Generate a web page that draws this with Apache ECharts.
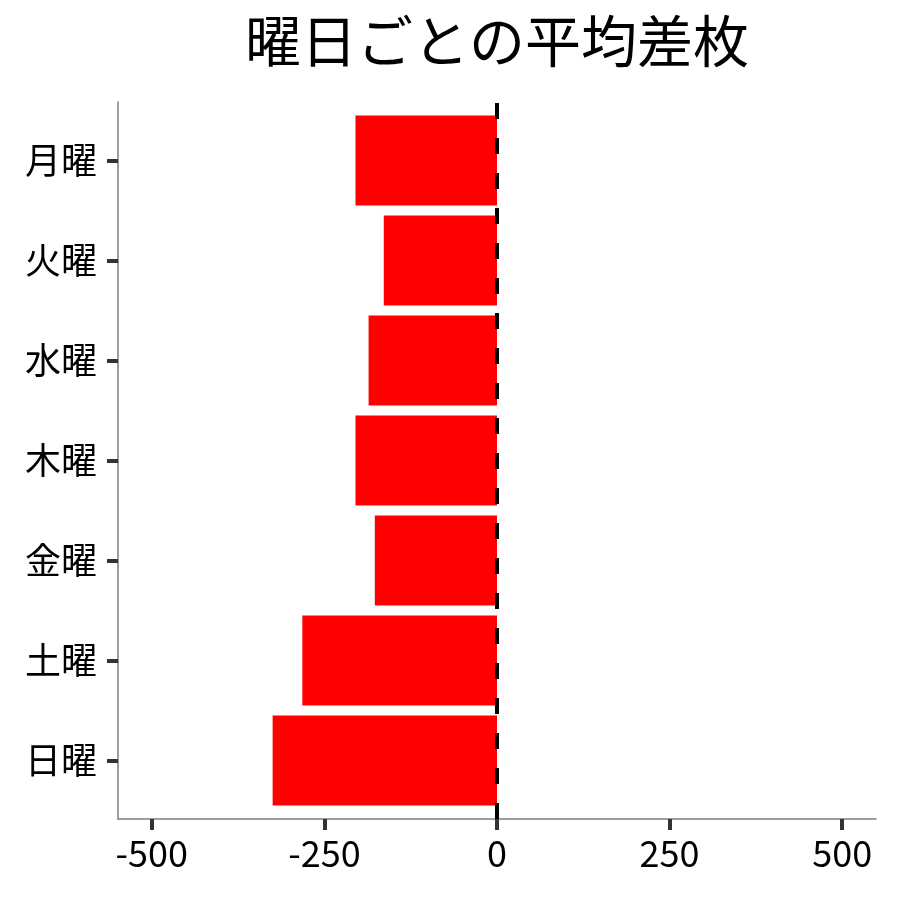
<!DOCTYPE html>
<html>
<head>
<meta charset="utf-8">
<script src="https://cdn.jsdelivr.net/npm/echarts@6/dist/echarts.min.js"></script>
<style>html,body{margin:0;padding:0;background:#fff}#c{width:900px;height:900px}</style>
</head>
<body>
<div id="c"></div>
<script>
const title = '曜日ごとの平均差枚';
const categories = ['月曜', '火曜', '水曜', '木曜', '金曜', '土曜', '日曜'];
const values = [-205, -164, -186, -205, -177, -282, -325];
const xTicks = [-500, -250, 0, 250, 500];
const xMin = -549, xMax = 549;

const font = '"Noto Sans CJK JP", "Noto Sans", sans-serif';
const chart = echarts.init(document.getElementById('c'));
chart.setOption({
  animation: false,
  backgroundColor: '#fff',
  title: {
    text: title, left: 492, top: 8, textAlign: 'center',
    textStyle: { fontFamily: font, fontSize: 56, fontWeight: 'normal', color: '#000' }
  },
  grid: [
    { left: 118, right: 24, top: 102, bottom: 81 },
    { left: 118, right: 24, top: 110.5, height: 700 }
  ],
  xAxis: [
    {
      gridIndex: 0, type: 'value', min: xMin, max: xMax,
      axisLine: { show: true, onZero: false, lineStyle: { color: '#7f7f7f', width: 1.5 } },
      axisTick: { show: true, customValues: xTicks, length: 11, lineStyle: { color: '#333', width: 4 } },
      axisLabel: { customValues: xTicks, margin: 16, fontFamily: font, fontSize: 36, color: '#000' },
      splitLine: { show: false }
    },
    {
      gridIndex: 1, type: 'value', min: xMin, max: xMax, show: false
    }
  ],
  yAxis: [
    {
      gridIndex: 0, type: 'value', min: 0, max: 1,
      axisLine: { show: true, onZero: false, lineStyle: { color: '#7f7f7f', width: 1.5 } },
      axisTick: { show: false }, axisLabel: { show: false }, splitLine: { show: false }
    },
    {
      gridIndex: 1, type: 'category', data: categories, inverse: true,
      axisLine: { show: false, onZero: false },
      axisTick: { show: true, alignWithLabel: true, length: 11, lineStyle: { color: '#333', width: 4 } },
      axisLabel: { margin: 21, fontFamily: font, fontSize: 36, color: '#000' },
      splitLine: { show: false }
    }
  ],
  series: [
    {
      type: 'bar', xAxisIndex: 1, yAxisIndex: 1, data: values,
      barWidth: '90%', itemStyle: { color: '#ff0000' }, z: 2
    },
    {
      type: 'line', xAxisIndex: 0, yAxisIndex: 0, data: [], z: 5,
      markLine: {
        silent: true, symbol: ['none', 'none'], label: { show: false },
        lineStyle: { color: '#000', width: 4, type: [16, 19] },
        data: [{ xAxis: 0 }]
      }
    }
  ]
});
</script>
</body>
</html>
